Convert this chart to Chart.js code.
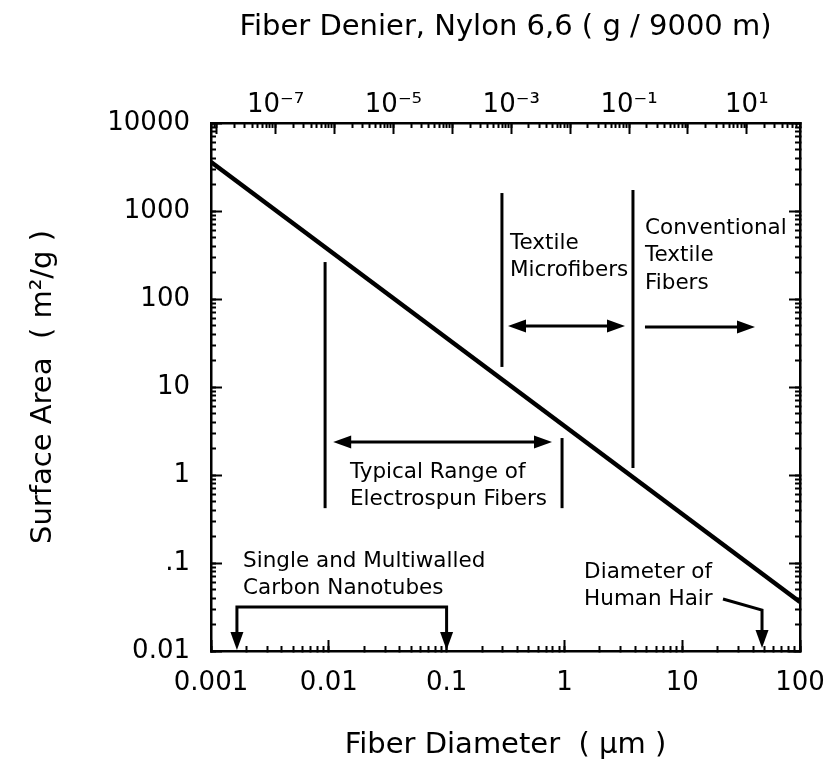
<!DOCTYPE html>
<html>
<head>
<meta charset="utf-8">
<script src="https://cdn.jsdelivr.net/npm/chart.js@4"></script>
<style>
  html, body { margin: 0; padding: 0; background: #fff; }
</style>
</head>
<body>
<canvas id="chart" width="840" height="769"></canvas>
<script>
// straight line: fiber diameter (um) vs surface area (m2/g)
const diameters = [0.001, 100];
const surfaceAreas = [3600, 0.036];

const diameterTicks = [0.001, 0.01, 0.1, 1, 10, 100];
const diameterTickLabels = ['0.001', '0.01', '0.1', '1', '10', '100'];
const areaTicks = [0.01, 0.1, 1, 10, 100, 1000, 10000];
const areaTickLabels = ['0.01', '.1', '1', '10', '100', '1000', '10000'];
const denierRange = [8e-9, 80];
const denierTicks = [1e-7, 1e-5, 1e-3, 1e-1, 10];
const denierTickLabels = ['10⁻⁷', '10⁻⁵', '10⁻³', '10⁻¹', '10¹'];

// vertical range markers: [diameter, area from, area to]
const rangeLines = [
    [0.0093, 0.42, 263],
    [0.955, 0.42, 2.63],
    [0.295, 16.9, 1600],
    [3.82, 1.2, 1730]
];

// arrows as polylines of [diameter, area]
const arrows = [
    { pts: [[0.0109, 2.37], [0.785, 2.37]], start: true, end: true },
    { pts: [[0.332, 49.3], [3.27, 49.3]], start: true, end: true },
    { pts: [[4.83, 48.1], [41.5, 48.1]], start: false, end: true },
    { pts: [[0.00166, 0.01026], [0.00166, 0.0316], [0.1, 0.0316], [0.1, 0.01026]], start: true, end: true },
    { pts: [[22.2, 0.039], [47.6, 0.0292], [47.6, 0.0108]], start: false, end: true }
];

// text notes, anchored at left / middle of first line
const notes = [
    { x: 0.345, y: 433, lines: ['Textile', 'Microfibers'] },
    { x: 4.83, y: 641, lines: ['Conventional', 'Textile', 'Fibers'] },
    { x: 0.0151, y: 1.08, lines: ['Typical Range of', 'Electrospun Fibers'] },
    { x: 0.00187, y: 0.1054, lines: ['Single and Multiwalled', 'Carbon Nanotubes'] },
    { x: 1.47, y: 0.079, lines: ['Diameter of', 'Human Hair'] }
];

Chart.defaults.font.family = "'DejaVu Sans', sans-serif";
Chart.defaults.color = '#000';

function logTicks(min, max, majorOnly) {
    const out = [];
    for (let e = Math.floor(Math.log10(min)); e <= Math.ceil(Math.log10(max)); e++) {
        for (let m = 1; m <= 9; m++) {
            if (majorOnly && m > 1) break;
            const v = m * Math.pow(10, e);
            if (v >= min * 0.9999 && v <= max * 1.0001) out.push({ value: v });
        }
    }
    return out;
}

function labelFor(value, ticks, labels) {
    const i = ticks.findIndex(t => Math.abs(value / t - 1) < 1e-6);
    return i >= 0 ? labels[i] : '';
}

// one axis per side draws short ticks (and labels), a zero-size one draws long ticks at decades
function axis(position, range, size, major, extra) {
    const horizontal = position === 'top' || position === 'bottom';
    return Object.assign({
        type: 'logarithmic',
        position: position,
        axis: horizontal ? 'x' : 'y',
        min: range[0],
        max: range[1],
        weight: major ? 0 : 1,
        afterBuildTicks: s => { s.ticks = logTicks(range[0], range[1], major); },
        afterFit: s => {
            if (horizontal) s.height = size; else s.width = size;
            s.paddingLeft = s.paddingRight = s.paddingTop = s.paddingBottom = 0;
        },
        grid: {
            drawOnChartArea: false,
            drawTicks: true,
            tickLength: major ? -11 : -5,
            tickWidth: 2,
            tickColor: '#000'
        },
        border: { display: !major, color: '#000', width: 2.5 },
        ticks: { display: false, autoSkip: false, maxRotation: 0, minRotation: 0 }
    }, extra || {});
}

const notesPlugin = {
    id: 'notes',
    afterDatasetsDraw(chart) {
        const ctx = chart.ctx;
        const px = v => chart.scales.x.getPixelForValue(v);
        const py = v => chart.scales.y.getPixelForValue(v);
        const headLen = 18, headHalf = 6.5;

        function head(tip, from) {
            const a = Math.atan2(tip[1] - from[1], tip[0] - from[0]);
            const bx = tip[0] - headLen * Math.cos(a), by = tip[1] - headLen * Math.sin(a);
            ctx.beginPath();
            ctx.moveTo(tip[0], tip[1]);
            ctx.lineTo(bx + headHalf * Math.sin(a), by - headHalf * Math.cos(a));
            ctx.lineTo(bx - headHalf * Math.sin(a), by + headHalf * Math.cos(a));
            ctx.closePath();
            ctx.fill();
        }
        function pullBack(p, q) {
            const a = Math.atan2(p[1] - q[1], p[0] - q[0]);
            return [p[0] - (headLen - 3) * Math.cos(a), p[1] - (headLen - 3) * Math.sin(a)];
        }

        ctx.save();
        ctx.strokeStyle = '#000';
        ctx.fillStyle = '#000';
        ctx.lineWidth = 3;
        ctx.lineJoin = 'miter';

        rangeLines.forEach(([d, a0, a1]) => {
            ctx.beginPath();
            ctx.moveTo(px(d), py(a0));
            ctx.lineTo(px(d), py(a1));
            ctx.stroke();
        });

        arrows.forEach(ar => {
            const p = ar.pts.map(([d, s]) => [px(d), py(s)]);
            const n = p.length;
            const line = p.slice();
            if (ar.start) line[0] = pullBack(p[0], p[1]);
            if (ar.end) line[n - 1] = pullBack(p[n - 1], p[n - 2]);
            ctx.beginPath();
            ctx.moveTo(line[0][0], line[0][1]);
            for (let i = 1; i < n; i++) ctx.lineTo(line[i][0], line[i][1]);
            ctx.stroke();
            if (ar.start) head(p[0], p[1]);
            if (ar.end) head(p[n - 1], p[n - 2]);
        });

        ctx.font = "21.5px 'DejaVu Sans'";
        ctx.textAlign = 'left';
        ctx.textBaseline = 'middle';
        notes.forEach(nt => {
            nt.lines.forEach((t, i) => ctx.fillText(t, px(nt.x), py(nt.y) + i * 27.5));
        });
        ctx.restore();
    }
};

new Chart(document.getElementById('chart'), {
    type: 'line',
    data: {
        datasets: [{
            data: diameters.map((d, i) => ({ x: d, y: surfaceAreas[i] })),
            borderColor: '#000',
            borderWidth: 4.5,
            pointRadius: 0,
            fill: false,
            xAxisID: 'x',
            yAxisID: 'y'
        }]
    },
    options: {
        responsive: false,
        devicePixelRatio: 1,
        animation: false,
        layout: { padding: 0 },
        plugins: { legend: { display: false }, tooltip: { enabled: false } },
        scales: {
            x: axis('bottom', [0.001, 100], 118, false, {
                ticks: {
                    display: true, autoSkip: false, maxRotation: 0, minRotation: 0, padding: 22,
                    font: { size: 26 },
                    callback: v => labelFor(v, diameterTicks, diameterTickLabels)
                },
                title: { display: true, text: 'Fiber Diameter  ( µm )', font: { size: 29 }, padding: { bottom: 6, top: 0 } }
            }),
            xMaj: axis('bottom', [0.001, 100], 0, true),
            x2: axis('top', denierRange, 123, false, {
                ticks: {
                    display: true, autoSkip: false, maxRotation: 0, minRotation: 0, padding: 7,
                    font: { size: 26 },
                    callback: v => labelFor(v, denierTicks, denierTickLabels)
                },
                title: { display: true, text: 'Fiber Denier, Nylon 6,6 ( g / 9000 m)', font: { size: 29 }, padding: { top: 10, bottom: 0 } }
            }),
            x2Maj: axis('top', denierRange, 0, true),
            y: axis('left', [0.01, 10000], 211, false, {
                ticks: {
                    display: true, autoSkip: false, padding: 26,
                    font: { size: 26 },
                    callback: v => labelFor(v, areaTicks, areaTickLabels)
                },
                title: { display: true, text: 'Surface Area  ( m²/g )', font: { size: 29 }, padding: { top: 26, bottom: 0 } }
            }),
            yMaj: axis('left', [0.01, 10000], 0, true),
            y2: axis('right', [0.01, 10000], 40, false),
            y2Maj: axis('right', [0.01, 10000], 0, true)
        }
    },
    plugins: [notesPlugin]
});
</script>
</body>
</html>
